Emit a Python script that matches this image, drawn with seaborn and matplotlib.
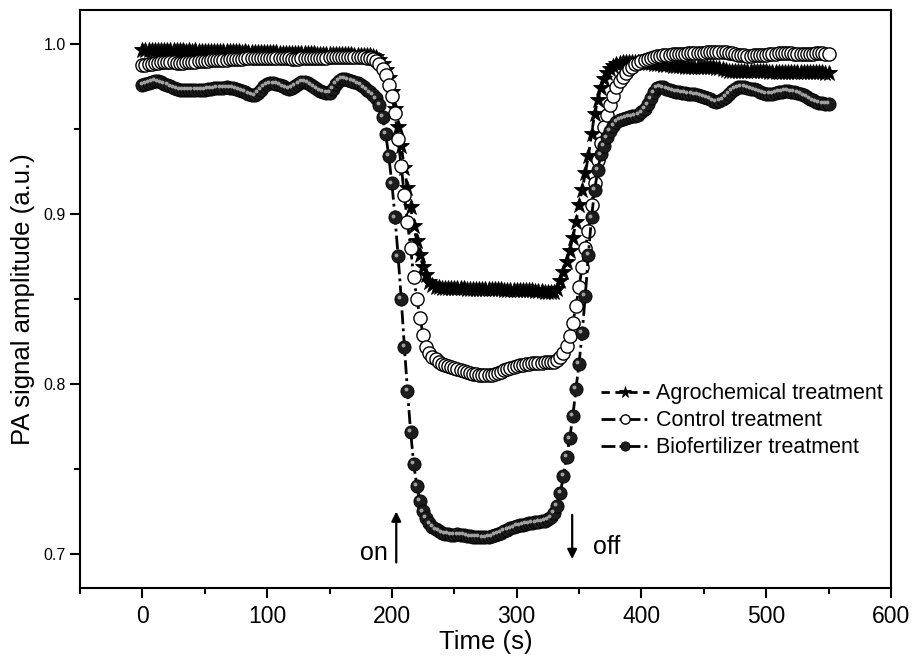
import numpy as np
import matplotlib
matplotlib.use("Agg")
import matplotlib.pyplot as plt
from matplotlib.ticker import MultipleLocator, FormatStrFormatter
from matplotlib.transforms import offset_copy
import seaborn as sns

# ---------------- data ----------------
time_s = np.arange(0, 550.1, 2.5)  # sampling grid, s

agrochemical = [
    0.9965, 0.9966, 0.9964, 0.9965, 0.9964, 0.9965, 0.9963, 0.9964,
    0.9963, 0.9964, 0.9962, 0.9963, 0.9962, 0.9963, 0.9961, 0.9962,
    0.9961, 0.9962, 0.9960, 0.9961, 0.9960, 0.9960, 0.9959, 0.9959,
    0.9958, 0.9959, 0.9957, 0.9958, 0.9957, 0.9957, 0.9956, 0.9956,
    0.9955, 0.9956, 0.9954, 0.9955, 0.9954, 0.9954, 0.9953, 0.9953,
    0.9952, 0.9952, 0.9951, 0.9951, 0.9950, 0.9950, 0.9949, 0.9949,
    0.9948, 0.9948, 0.9947, 0.9947, 0.9946, 0.9946, 0.9945, 0.9945,
    0.9944, 0.9944, 0.9943, 0.9943, 0.9942, 0.9942, 0.9941, 0.9941,
    0.9940, 0.9940, 0.9939, 0.9939, 0.9938, 0.9938, 0.9937, 0.9936,
    0.9935, 0.9933, 0.9930, 0.9922, 0.9905, 0.9880, 0.9850, 0.9800,
    0.9720, 0.9620, 0.9510, 0.9400, 0.9270, 0.9150, 0.9040, 0.8930,
    0.8840, 0.8760, 0.8690, 0.8640, 0.8600, 0.8580, 0.8572, 0.8568,
    0.8567, 0.8566, 0.8565, 0.8565, 0.8564, 0.8563, 0.8563, 0.8562,
    0.8561, 0.8561, 0.8560, 0.8560, 0.8559, 0.8559, 0.8558, 0.8558,
    0.8557, 0.8557, 0.8556, 0.8556, 0.8555, 0.8555, 0.8554, 0.8554,
    0.8553, 0.8553, 0.8552, 0.8552, 0.8551, 0.8550, 0.8549, 0.8548,
    0.8546, 0.8544, 0.8542, 0.8541, 0.8543, 0.8560, 0.8605, 0.8660,
    0.8720, 0.8785, 0.8860, 0.8950, 0.9050, 0.9140, 0.9240, 0.9340,
    0.9470, 0.9590, 0.9670, 0.9740, 0.9795, 0.9830, 0.9855, 0.9870,
    0.9880, 0.9887, 0.9892, 0.9895, 0.9896, 0.9896, 0.9895, 0.9894,
    0.9892, 0.9890, 0.9888, 0.9886, 0.9884, 0.9882, 0.9880, 0.9878,
    0.9876, 0.9874, 0.9872, 0.9870, 0.9869, 0.9868, 0.9867, 0.9866,
    0.9866, 0.9865, 0.9865, 0.9864, 0.9864, 0.9863, 0.9863, 0.9862,
    0.9861, 0.9859, 0.9852, 0.9846, 0.9844, 0.9843, 0.9843, 0.9842,
    0.9842, 0.9841, 0.9841, 0.9840, 0.9840, 0.9840, 0.9839, 0.9839,
    0.9839, 0.9838, 0.9838, 0.9838, 0.9837, 0.9837, 0.9837, 0.9836,
    0.9836, 0.9836, 0.9835, 0.9835, 0.9835, 0.9834, 0.9834, 0.9834,
    0.9833, 0.9833, 0.9833, 0.9832, 0.9832,
]

control = [
    0.9875, 0.9877, 0.9880, 0.9884, 0.9888, 0.9891, 0.9893, 0.9894,
    0.9894, 0.9893, 0.9892, 0.9891, 0.9891, 0.9891, 0.9892, 0.9893,
    0.9895, 0.9897, 0.9899, 0.9900, 0.9901, 0.9902, 0.9903, 0.9904,
    0.9905, 0.9906, 0.9907, 0.9908, 0.9909, 0.9910, 0.9911, 0.9913,
    0.9914, 0.9915, 0.9916, 0.9917, 0.9918, 0.9919, 0.9920, 0.9920,
    0.9920, 0.9920, 0.9919, 0.9918, 0.9917, 0.9916, 0.9915, 0.9915,
    0.9914, 0.9914, 0.9914, 0.9915, 0.9915, 0.9916, 0.9917, 0.9918,
    0.9919, 0.9919, 0.9920, 0.9920, 0.9921, 0.9921, 0.9922, 0.9922,
    0.9922, 0.9923, 0.9923, 0.9923, 0.9923, 0.9922, 0.9922, 0.9921,
    0.9920, 0.9918, 0.9912, 0.9900, 0.9885, 0.9855, 0.9815, 0.9760,
    0.9695, 0.9595, 0.9440, 0.9280, 0.9110, 0.8950, 0.8800, 0.8630,
    0.8500, 0.8390, 0.8290, 0.8220, 0.8180, 0.8160, 0.8145, 0.8130,
    0.8118, 0.8110, 0.8104, 0.8098, 0.8092, 0.8086, 0.8080, 0.8075,
    0.8070, 0.8065, 0.8061, 0.8057, 0.8054, 0.8052, 0.8051, 0.8052,
    0.8055, 0.8060, 0.8066, 0.8073, 0.8080, 0.8087, 0.8094, 0.8100,
    0.8105, 0.8110, 0.8114, 0.8117, 0.8120, 0.8122, 0.8124, 0.8125,
    0.8126, 0.8127, 0.8128, 0.8130, 0.8132, 0.8140, 0.8158, 0.8185,
    0.8225, 0.8280, 0.8360, 0.8460, 0.8570, 0.8690, 0.8800, 0.8900,
    0.9050, 0.9180, 0.9320, 0.9420, 0.9510, 0.9580, 0.9640, 0.9695,
    0.9745, 0.9780, 0.9808, 0.9832, 0.9852, 0.9867, 0.9880, 0.9891,
    0.9900, 0.9908, 0.9914, 0.9920, 0.9924, 0.9927, 0.9930, 0.9933,
    0.9935, 0.9937, 0.9939, 0.9941, 0.9942, 0.9943, 0.9944, 0.9945,
    0.9946, 0.9947, 0.9948, 0.9949, 0.9950, 0.9951, 0.9952, 0.9953,
    0.9954, 0.9955, 0.9955, 0.9953, 0.9950, 0.9946, 0.9942, 0.9938,
    0.9935, 0.9933, 0.9932, 0.9932, 0.9933, 0.9934, 0.9935, 0.9936,
    0.9938, 0.9940, 0.9942, 0.9944, 0.9946, 0.9947, 0.9947, 0.9946,
    0.9945, 0.9944, 0.9943, 0.9942, 0.9942, 0.9942, 0.9943, 0.9944,
    0.9945, 0.9945, 0.9945, 0.9944, 0.9944,
]

biofertilizer = [
    0.9760, 0.9765, 0.9772, 0.9778, 0.9782, 0.9780, 0.9774, 0.9766,
    0.9758, 0.9750, 0.9742, 0.9735, 0.9730, 0.9728, 0.9728, 0.9729,
    0.9730, 0.9731, 0.9730, 0.9729, 0.9731, 0.9734, 0.9737, 0.9739,
    0.9740, 0.9741, 0.9743, 0.9745, 0.9744, 0.9740, 0.9735, 0.9730,
    0.9724, 0.9716, 0.9708, 0.9700, 0.9698, 0.9710, 0.9730, 0.9750,
    0.9762, 0.9768, 0.9768, 0.9764, 0.9758, 0.9750, 0.9742, 0.9736,
    0.9740, 0.9752, 0.9766, 0.9776, 0.9778, 0.9772, 0.9760, 0.9746,
    0.9735, 0.9725, 0.9716, 0.9710, 0.9712, 0.9735, 0.9765, 0.9785,
    0.9794, 0.9795, 0.9790, 0.9783, 0.9776, 0.9768, 0.9758, 0.9745,
    0.9732, 0.9715, 0.9700, 0.9680, 0.9640, 0.9570, 0.9470, 0.9340,
    0.9180, 0.8980, 0.8750, 0.8500, 0.8220, 0.7960, 0.7720, 0.7530,
    0.7400, 0.7310, 0.7250, 0.7210, 0.7180, 0.7160, 0.7145, 0.7135,
    0.7126, 0.7120, 0.7116, 0.7114, 0.7113, 0.7115, 0.7114, 0.7110,
    0.7106, 0.7103, 0.7101, 0.7100, 0.7099, 0.7098, 0.7098, 0.7100,
    0.7104, 0.7110, 0.7118, 0.7126, 0.7134, 0.7142, 0.7150, 0.7157,
    0.7163, 0.7168, 0.7172, 0.7176, 0.7180, 0.7183, 0.7186, 0.7189,
    0.7192, 0.7196, 0.7203, 0.7215, 0.7240, 0.7285, 0.7360, 0.7460,
    0.7570, 0.7680, 0.7810, 0.7970, 0.8120, 0.8300, 0.8520, 0.8760,
    0.8980, 0.9140, 0.9260, 0.9350, 0.9400, 0.9450, 0.9490, 0.9520,
    0.9540, 0.9552, 0.9560, 0.9566, 0.9570, 0.9574, 0.9578, 0.9585,
    0.9598, 0.9618, 0.9645, 0.9680, 0.9715, 0.9740, 0.9748, 0.9745,
    0.9738, 0.9730, 0.9724, 0.9720, 0.9716, 0.9713, 0.9710, 0.9708,
    0.9706, 0.9703, 0.9700, 0.9696, 0.9690, 0.9683, 0.9675, 0.9666,
    0.9660, 0.9664, 0.9674, 0.9690, 0.9708, 0.9724, 0.9737, 0.9745,
    0.9748, 0.9747, 0.9743, 0.9738, 0.9733, 0.9727, 0.9720, 0.9713,
    0.9708, 0.9706, 0.9707, 0.9711, 0.9716, 0.9720, 0.9722, 0.9722,
    0.9720, 0.9716, 0.9712, 0.9706, 0.9698, 0.9688, 0.9678, 0.9668,
    0.9660, 0.9654, 0.9650, 0.9648, 0.9648,
]

series_labels = ["Agrochemical treatment", "Control treatment", "Biofertilizer treatment"]
light_on_time, light_off_time = 203.5, 344.5
x_ticks = [0, 100, 200, 300, 400, 500, 600]
y_ticks = [0.7, 0.8, 0.9, 1.0]

# ---------------- style ----------------
sns.set_theme(style="ticks")
plt.rcParams["font.family"] = ["Liberation Sans", "DejaVu Sans"]
plt.rcParams["axes.linewidth"] = 1.5
for key in ["text.color", "axes.labelcolor", "xtick.color", "ytick.color",
            "axes.edgecolor"]:
    plt.rcParams[key] = "black"

fig = plt.figure(figsize=(9.14, 6.58), dpi=100)
ax = fig.add_axes([0.0875, 0.1064, 0.8873, 0.8784])

lw = 2.0
sns.lineplot(x=time_s, y=agrochemical, ax=ax, estimator=None, sort=False,
             color="black", lw=lw, linestyle=(0, (3, 2)),
             marker="*", markersize=12, markerfacecolor="black",
             markeredgecolor="black", markeredgewidth=0.6,
             label=series_labels[0], zorder=2)
sns.lineplot(x=time_s, y=control, ax=ax, estimator=None, sort=False,
             color="black", lw=lw, linestyle=(0, (5, 1.5, 1, 1.5)),
             marker="o", markersize=9.5, markerfacecolor="white",
             markeredgecolor="black", markeredgewidth=1.0,
             label=series_labels[1], zorder=3)
sns.lineplot(x=time_s, y=biofertilizer, ax=ax, estimator=None, sort=False,
             color="black", lw=lw, linestyle=(0, (5, 1.5, 1, 1.5)),
             marker="o", markersize=9.5, markerfacecolor="#1c1c1c",
             markeredgecolor="black", markeredgewidth=0.6,
             label=series_labels[2], zorder=4)
# glossy highlight on the dark spheres
hl = offset_copy(ax.transData, fig=fig, x=-1.8, y=1.8, units="dots")
ax.plot(time_s, biofertilizer, ls="none", marker="o", markersize=2.8,
        markerfacecolor="#a0a0a0", markeredgewidth=0, transform=hl,
        zorder=5, label="_nolegend_")

ax.set_xlim(-50, 600)
ax.set_ylim(0.68, 1.02)
ax.set_xticks(x_ticks)
ax.set_yticks(y_ticks)
ax.xaxis.set_minor_locator(MultipleLocator(50))
ax.yaxis.set_minor_locator(MultipleLocator(0.05))
ax.yaxis.set_major_formatter(FormatStrFormatter("%.1f"))
ax.tick_params(which="major", direction="out", length=7, width=1.5,
               color="black", top=False, right=False)
ax.tick_params(which="minor", direction="out", length=4, width=1.5,
               color="black", top=False, right=False)
ax.tick_params(axis="x", labelsize=16.5, pad=5, labelcolor="black")
ax.tick_params(axis="y", labelsize=11.5, pad=3, labelcolor="black")
for s in ax.spines.values():
    s.set_visible(True)
    s.set_color("black")
    s.set_linewidth(1.5)

ax.set_xlabel("Time (s)", fontsize=18.5, labelpad=2, color="black")
ax.set_ylabel("PA signal amplitude (a.u.)", fontsize=18.5, labelpad=6, color="black")

# on / off arrows
ax.annotate("", xy=(light_on_time, 0.725), xytext=(light_on_time, 0.695),
            arrowprops=dict(arrowstyle="-|>", color="black", lw=1.6,
                            mutation_scale=14, shrinkA=0, shrinkB=0))
ax.text(light_on_time - 7, 0.7005, "on", ha="right", va="center", fontsize=18,
        color="black")
ax.annotate("", xy=(light_off_time, 0.697), xytext=(light_off_time, 0.723),
            arrowprops=dict(arrowstyle="-|>", color="black", lw=1.6,
                            mutation_scale=14, shrinkA=0, shrinkB=0))
ax.text(light_off_time + 17, 0.7041, "off", ha="left", va="center", fontsize=18,
        color="black")

handles = [l for l in ax.get_lines() if l.get_label() in series_labels]
leg = ax.legend(handles=handles, labels=series_labels, loc="upper left",
                bbox_to_anchor=(0.643, 0.354), frameon=False, fontsize=15.5,
                handlelength=2.2, handletextpad=0.35, labelspacing=0.28,
                borderpad=0, borderaxespad=0, markerscale=0.7)
for t in leg.get_texts():
    t.set_color("black")

fig.savefig("out.png", dpi=100)
